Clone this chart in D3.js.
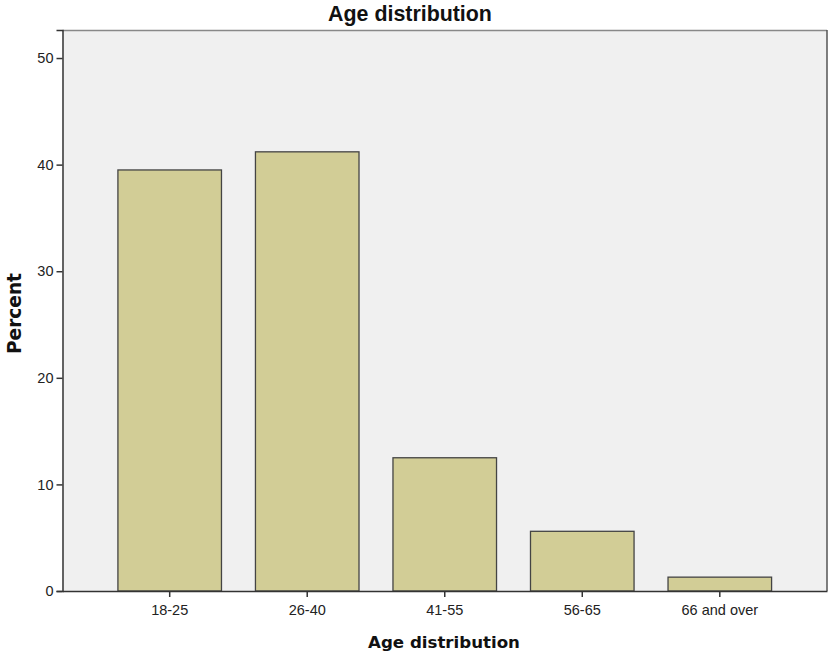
<!DOCTYPE html>
<html><head><meta charset="utf-8">
<script src="https://cdn.jsdelivr.net/npm/d3@7"></script>
<style>body{margin:0;background:#fff}svg{display:block}text{font-family:"Liberation Sans",Arial,sans-serif}</style>
</head><body><svg id="c" width="828" height="656"></svg>
<script>
const categories = ["18-25","26-40","41-55","56-65","66 and over"];
const percents = [39.5, 41.2, 12.5, 5.6, 1.3];
const yTicks = [0,10,20,30,40,50];

const svg = d3.select("#c");
const L=62.5, R=827, T=30, B=591;
const x = d3.scaleBand().domain(categories).range([L,R]).paddingInner(0.247).paddingOuter(0.403);
const y = d3.scaleLinear().domain([0,52.63]).range([B,T]);

function fit(sel, target){
  const n = sel.node(); const fs = parseFloat(sel.attr("font-size"));
  const w = n.getComputedTextLength(); sel.attr("font-size", fs*target/w);
}

svg.append("rect").attr("x",L).attr("y",T).attr("width",R-L).attr("height",B-T).attr("fill","#f0f0f0");
svg.append("line").attr("x1",L).attr("x2",R).attr("y1",T+0.5).attr("y2",T+0.5).attr("stroke","#888").attr("stroke-width",1.5);
svg.append("line").attr("x1",R).attr("x2",R).attr("y1",T).attr("y2",B).attr("stroke","#555").attr("stroke-width",1.5);

svg.selectAll("rect.bar").data(categories).join("rect").attr("class","bar")
  .attr("x",d=>x(d)).attr("width",x.bandwidth())
  .attr("y",(d,i)=>y(percents[i])).attr("height",(d,i)=>B-y(percents[i]))
  .attr("fill","#d2cd96").attr("stroke","#444").attr("stroke-width",1.3);

const ya = svg.append("g").attr("transform",`translate(${L},0)`)
  .call(d3.axisLeft(y).tickValues(yTicks).tickSize(6).tickPadding(3));
ya.select(".domain").attr("stroke","#333").attr("stroke-width",1.5);
ya.selectAll(".tick line").attr("stroke","#333").attr("stroke-width",1.5);
ya.selectAll("text").attr("font-size",14.5).attr("fill","#222").style("font-family","'Liberation Sans',Arial,sans-serif");

const xa = svg.append("g").attr("transform",`translate(0,${B})`)
  .call(d3.axisBottom(x).tickSize(6).tickPadding(8).tickSizeOuter(0));
xa.select(".domain").attr("stroke","#333").attr("stroke-width",1.5);
xa.selectAll(".tick line").attr("stroke","#333").attr("stroke-width",1.5);
xa.selectAll("text").attr("font-size",14.5).attr("fill","#222").style("font-family","'Liberation Sans',Arial,sans-serif");

const t1 = svg.append("text").attr("x",410).attr("y",21).attr("text-anchor","middle")
  .attr("font-size",21).attr("font-weight","bold").attr("fill","#111").text("Age distribution");
fit(t1,164);
const t2 = svg.append("text").attr("x",444).attr("y",648).attr("text-anchor","middle")
  .style("font-family","'DejaVu Sans',Verdana,sans-serif")
  .attr("font-size",16.6).attr("font-weight","bold").attr("fill","#111").text("Age distribution");
fit(t2,152);
const t3 = svg.append("text").attr("transform",`translate(21,313.5) rotate(-90)`).attr("text-anchor","middle")
  .style("font-family","'DejaVu Sans',Verdana,sans-serif")
  .attr("font-size",18).attr("font-weight","bold").attr("fill","#111").text("Percent");
fit(t3,81);
</script></body></html>
